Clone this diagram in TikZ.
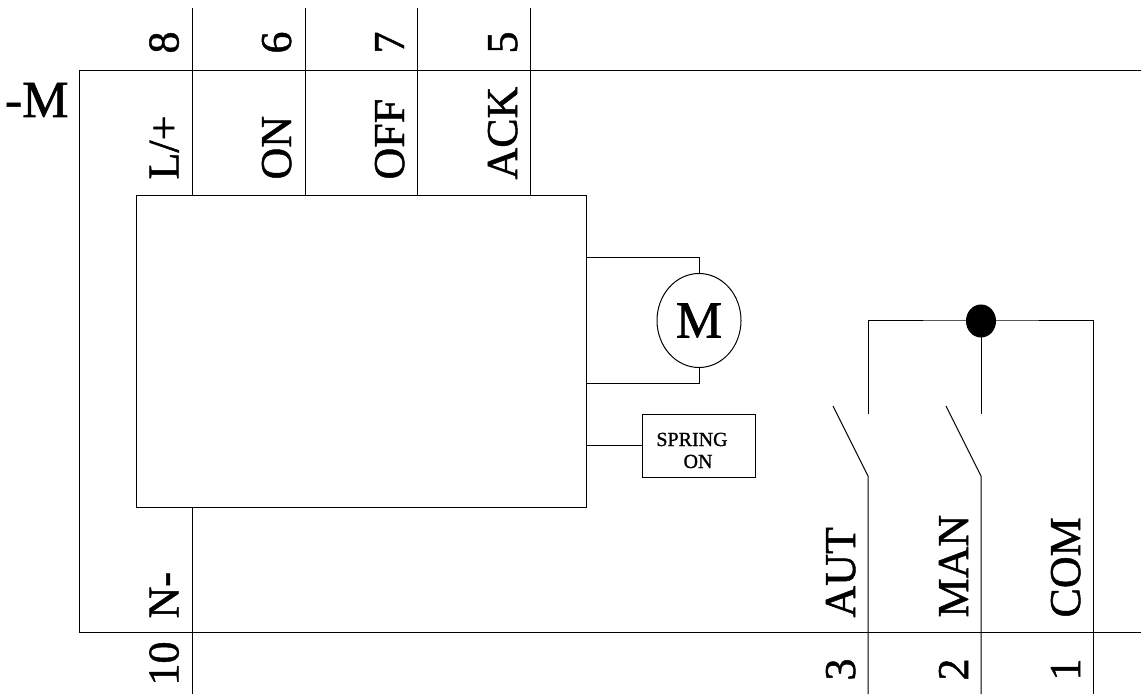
\documentclass[tikz,border=0pt]{standalone}
\usepackage{fontspec}
\setmainfont[FakeBold=1.1]{Liberation Serif}
\usetikzlibrary{shapes.geometric}
\begin{document}
\begin{tikzpicture}[x=0.75pt,y=-0.75pt,line width=0.75pt,
    lbl/.style={rotate=90,anchor=base west,inner sep=0pt,font=\fontsize{33}{33}\selectfont},
    big/.style={inner sep=0pt,font=\fontsize{39}{39}\selectfont},
    small/.style={inner sep=0pt,anchor=base,font=\fontsize{15}{15}\selectfont}]

       \useasboundingbox (0,0) rectangle (1141,698);

       \coordinate (fr1) at (1141,71);
       \coordinate (fr2) at (79,71);
       \coordinate (fr3) at (79,632);
       \coordinate (fr4) at (1141,632);
       \draw (fr1) -- (fr2) -- (fr3) -- (fr4);

       \node[draw,minimum width=337.5pt,minimum height=233.25pt,inner sep=0pt] (box) at (361,351.5) {};
       \node[big,anchor=base east] (title) at (69,117) {-M};

       \coordinate (t8) at (192,8);
       \coordinate (t6) at (305,8);
       \coordinate (t7) at (417,8);
       \coordinate (t5) at (530,8);
       \coordinate (t10) at (192,694);
       \coordinate (t3) at (868,694);
       \coordinate (t2) at (981,694);
       \coordinate (t1) at (1093,694);

       \draw (t8) -- (t8 |- box.north);
       \draw (t6) -- (t6 |- box.north);
       \draw (t7) -- (t7 |- box.north);
       \draw (t5) -- (t5 |- box.north);
       \draw (t10) -- (t10 |- box.south);

       \node[lbl] (n8) at (178.5,54) {8};
       \node[lbl] (n6) at (291,54) {6};
       \node[lbl] (n7) at (404,54) {7};
       \node[lbl] (n5) at (517,54) {5};
       \node[lbl] (l8) at (178.5,180) {L/+};
       \node[lbl] (l6) at (291,180) {ON};
       \node[lbl] (l7) at (404,180) {OFF};
       \node[lbl] (l5) at (517,180) {ACK};
       \node[lbl] (n10) at (178.5,686) {10};
       \node[lbl] (l10) at (178.5,619) {N-};
       \node[lbl] (n3) at (855,681) {3};
       \node[lbl] (n2) at (968,681) {2};
       \node[lbl] (n1) at (1080,681) {1};
       \node[lbl] (l3) at (855,618) {AUT};
       \node[lbl] (l2) at (968,618) {MAN};
       \node[lbl] (l1) at (1080,618) {COM};

       \node[draw,ellipse,minimum width=63pt,minimum height=70.5pt,inner sep=0pt,big] (motor) at (699,320.5) {M};
       \coordinate (m1) at (586,258);
       \coordinate (m2) at (586,383);
       \draw (m1) -| (motor.north);
       \draw (m2) -| (motor.south);

       \node[draw,minimum width=84.75pt,minimum height=47.25pt,inner sep=0pt] (spring) at (698.5,445.5) {};
       \coordinate (s1) at (586,445.5);
       \draw (s1) -- (spring.west);
       \node[small] (sp1) at (692,446) {SPRING};
       \node[small] (sp2) at (698,468) {ON};

       \node[draw,fill=black,ellipse,minimum width=21.75pt,minimum height=24pt,inner sep=0pt] (dot) at (981,321) {};
       \coordinate (a1) at (868,414);
       \coordinate (a2) at (868,476);
       \coordinate (a3) at (833,406);
       \coordinate (b1) at (981,414);
       \coordinate (b2) at (981,476);
       \coordinate (b3) at (946,406);

       \draw (a1) |- (dot.center) -| (t1);
       \draw (dot.center) -- (b1);
       \draw (t3) -- (a2) -- (a3);
       \draw (t2) -- (b2) -- (b3);
     \end{tikzpicture}
\end{document}
